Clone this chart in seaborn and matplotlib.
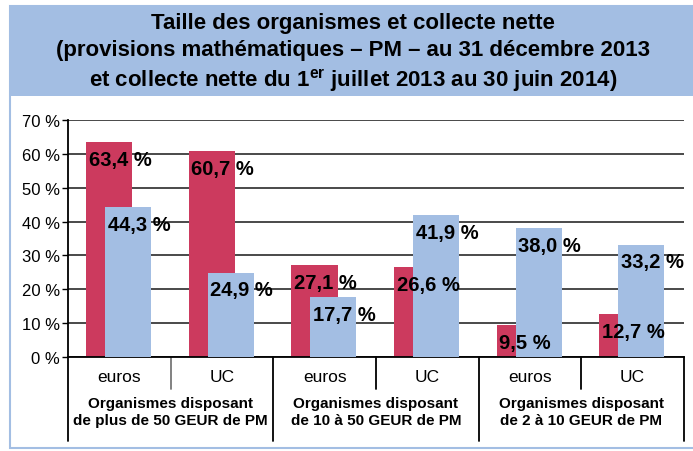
import numpy as np
import pandas as pd
import seaborn as sns
import matplotlib.pyplot as plt
from matplotlib.patches import Rectangle

# Données
categories = ["euros", "UC", "euros", "UC", "euros", "UC"]
groupes = ["Organismes disposant\nde plus de 50 GEUR de PM",
           "Organismes disposant\nde 10 à 50 GEUR de PM",
           "Organismes disposant\nde 2 à 10 GEUR de PM"]
pm = [63.4, 60.7, 27.1, 26.6, 9.5, 12.7]          # provisions mathématiques
collecte = [44.3, 24.9, 17.7, 41.9, 38.0, 33.2]   # collecte nette
yticks = [0, 10, 20, 30, 40, 50, 60, 70]

ROUGE = "#cc3a5e"
BLEU = "#a3bee3"

sns.set_theme(style="white")
plt.rcParams["font.family"] = ["Liberation Sans", "DejaVu Sans"]
plt.rcParams["text.color"] = "black"
plt.rcParams["xtick.color"] = "black"
plt.rcParams["ytick.color"] = "black"
plt.rcParams["mathtext.fontset"] = "custom"
plt.rcParams["mathtext.bf"] = "Liberation Sans:bold"
plt.rcParams["mathtext.rm"] = "Liberation Sans"

fig = plt.figure(figsize=(6.93, 4.52), dpi=100)
W, H = 693, 452

# cadre et bandeau du titre
fig.patches.append(Rectangle((10 / W, 1 - 449 / H), 800 / W, 442 / H, transform=fig.transFigure,
                             facecolor="white", edgecolor=BLEU, lw=1.5, zorder=-2))
fig.patches.append(Rectangle((10 / W, 1 - 97 / H), 800 / W, 90 / H, transform=fig.transFigure,
                             facecolor=BLEU, edgecolor="none", zorder=-1))
fig.text(0.51, 1 - 53.5 / H,
         "Taille des organismes et collecte nette\n"
         "(provisions mathématiques – PM – au 31 décembre 2013\n"
         r"et collecte nette du 1$^{\mathbf{er}}$ juillet 2013 au 30 juin 2014)",
         ha="center", va="center", fontsize=16, fontweight="bold", linespacing=1.33)

ax = fig.add_axes([68 / W, 1 - 358 / H, (684 - 68) / W, (358 - 121) / H])
ax.patch.set_alpha(0)

pos = np.arange(len(categories))
df = pd.DataFrame({"pos": pos, "pm": pm, "collecte": collecte})

sns.barplot(x=df["pos"] - 0.1, y=df["pm"], orient="x", native_scale=True, width=0.45,
            color=ROUGE, saturation=1, linewidth=0, errorbar=None, ax=ax, zorder=2)
sns.barplot(x=df["pos"] + 0.085, y=df["collecte"], orient="x", native_scale=True, width=0.45,
            color=BLEU, saturation=1, linewidth=0, errorbar=None, ax=ax, zorder=3)

# étiquettes de valeurs
for i in range(len(pos)):
    for v, dx in ((pm[i], -0.1), (collecte[i], 0.085)):
        ax.text(pos[i] + dx - 0.225 + 0.025, v - 5.1, f"{v:.1f}".replace(".", ",") + " %",
                ha="left", va="center", fontsize=14.5, fontweight="bold", zorder=5)

ax.set_xlim(-0.5, 5.5)
ax.set_ylim(0, 70)
ax.set_yticks(yticks)
ax.set_yticklabels([f"{t} %" for t in yticks], fontsize=12)
ax.set_xticks(pos)
ax.set_xticklabels(categories, fontsize=12.5)
ax.tick_params(axis="x", length=0, pad=9)
ax.tick_params(axis="y", length=4, width=1, direction="out", color="black", left=True, pad=2)
ax.set_xlabel("")
ax.set_ylabel("")

ax.set_axisbelow(True)
ax.yaxis.grid(True, color="#3a3a3a", lw=1.3, zorder=0)
ax.xaxis.grid(False)
for s in ("top", "right"):
    ax.spines[s].set_visible(False)
ax.spines["left"].set_color("black")
ax.spines["bottom"].set_color("black")
ax.spines["left"].set_linewidth(1.3)
ax.spines["bottom"].set_linewidth(1.3)

# séparateurs sous l'axe
tr = ax.get_xaxis_transform()
ax.plot([-0.5, -0.5], [0, -0.355], transform=tr, color="black", lw=1.3, clip_on=False)
for xg in (1.5, 3.5, 5.5):
    ax.plot([xg, xg], [0, -0.355], transform=tr, color="black", lw=1.3, clip_on=False)
for k, xs in enumerate((0.5, 2.5, 4.5)):
    ax.plot([xs, xs], [0, -0.135], transform=tr, color="#777777" if k == 0 else "black",
            lw=1.3, clip_on=False)

for k, g in enumerate(groupes):
    ax.text(2 * k + 0.5, -0.23, g, transform=tr, ha="center", va="center",
            fontsize=11, fontweight="bold", linespacing=1.25)

fig.savefig("out.png", dpi=100)
